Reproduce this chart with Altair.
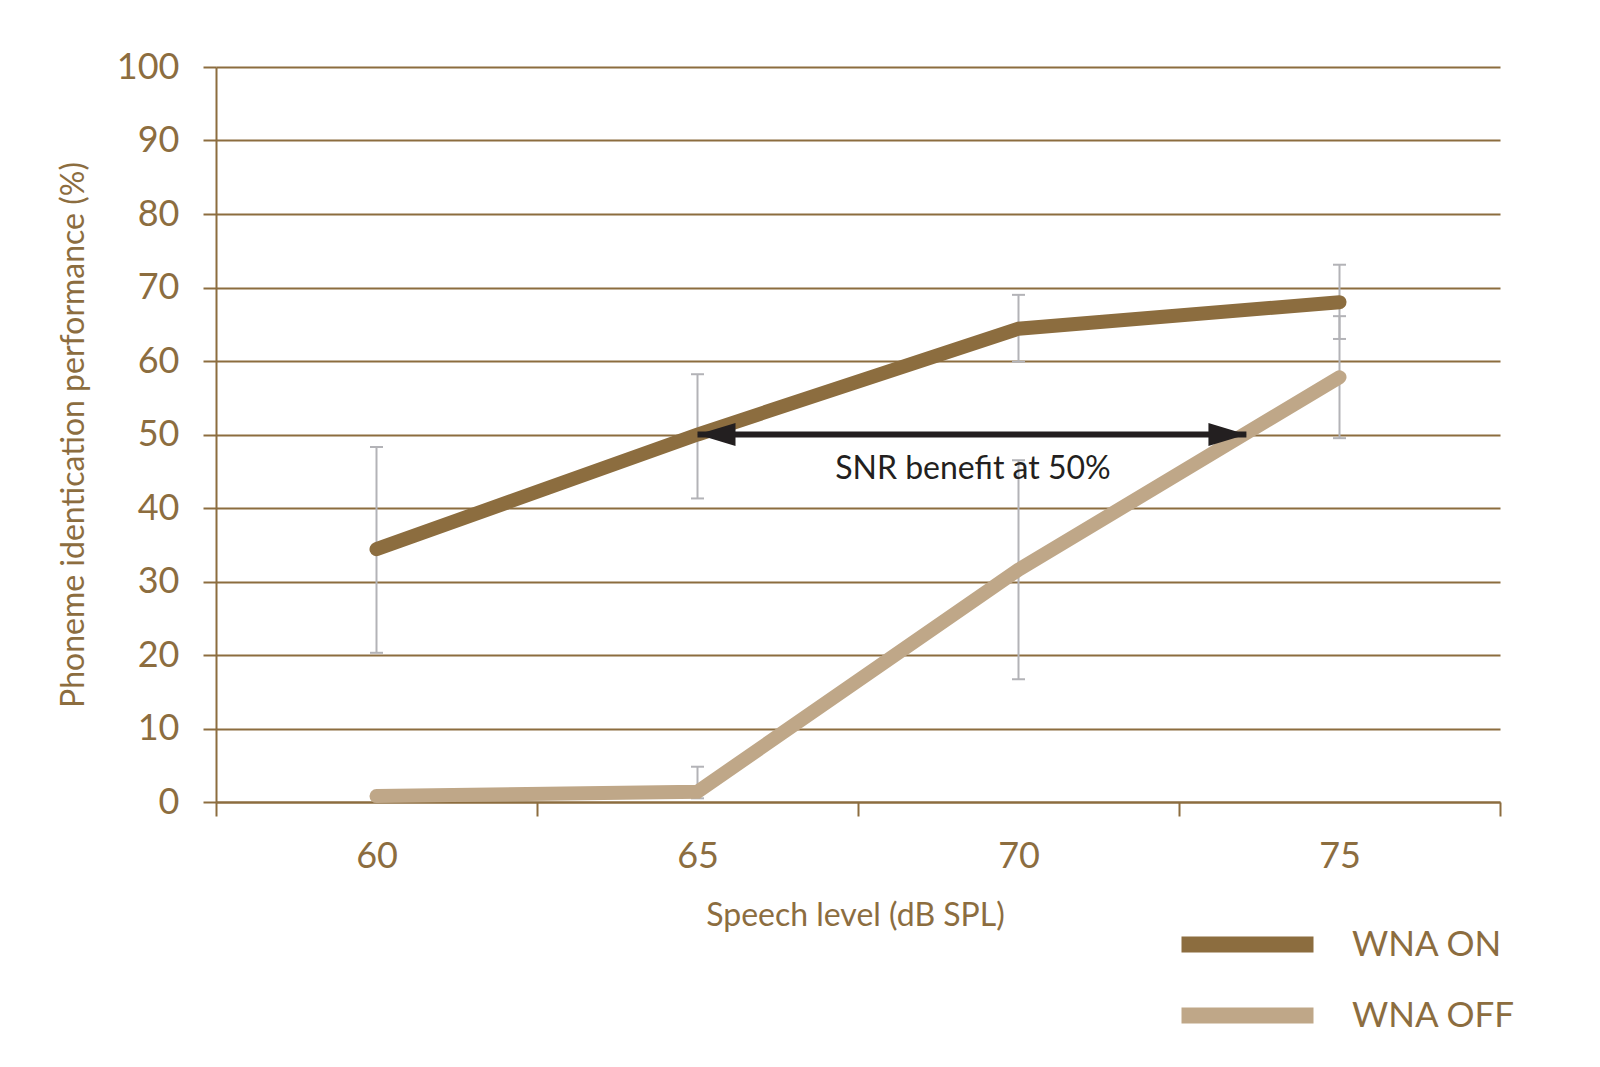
import altair as alt
import pandas as pd

# ---- data ----
levels = [60, 65, 70, 75]
series_names = ["WNA ON", "WNA OFF"]
wna_on = [34.4, 50.0, 64.4, 68.0]
wna_off = [0.8, 1.4, 31.6, 57.8]

# error bars (low, high); WNA OFF at 60 has none
on_err_low = [20.3, 41.3, 59.9, 63.0]
on_err_high = [48.3, 58.2, 69.0, 73.1]
off_err_levels = [65, 70, 75]
off_err_low = [0.5, 16.7, 49.5]
off_err_high = [4.8, 46.5, 66.1]

# annotation
arrow_start = 65.0
arrow_end = 73.55
arrow_level = 50.0
note_text = "SNR benefit at 50%"
note_x = 69.29
note_y = 44.0

x_ticks = [57.5, 60, 62.5, 65, 67.5, 70, 72.5, 75, 77.5]
y_ticks = list(range(0, 101, 10))

BROWN = "#8c6d3f"
TAN = "#bfa788"
GREY = "#b3b3b7"
DARK = "#231f20"
FONT = "Lato"

# ---- tables ----
lines_df = pd.DataFrame(
    [{"level": l, "score": v, "series": "WNA ON"} for l, v in zip(levels, wna_on)]
    + [{"level": l, "score": v, "series": "WNA OFF"} for l, v in zip(levels, wna_off)]
)
err_df = pd.DataFrame(
    [{"level": l, "low": lo, "high": hi} for l, lo, hi in zip(levels, on_err_low, on_err_high)]
    + [{"level": l, "low": lo, "high": hi} for l, lo, hi in zip(off_err_levels, off_err_low, off_err_high)]
)
caps_df = pd.DataFrame(
    [{"level": r["level"], "value": r["low"]} for _, r in err_df.iterrows()]
    + [{"level": r["level"], "value": r["high"]} for _, r in err_df.iterrows()]
)
arrow_df = pd.DataFrame([{"x1": arrow_start, "x2": arrow_end, "y": arrow_level}])
note_df = pd.DataFrame([{"x": note_x, "y": note_y, "t": note_text}])

x_scale = alt.Scale(domain=[57.5, 77.5], nice=False, zero=False)
y_scale = alt.Scale(domain=[0, 100], nice=False)

x_axis = alt.Axis(
    values=x_ticks,
    format="d",
    labelExpr="datum.value % 5 == 0 ? datum.label : ''",
    tickOpacity={"condition": {"test": "datum.value % 5 == 0", "value": 0}, "value": 1},
    grid=False,
    domainColor=BROWN, domainWidth=2,
    tickColor=BROWN, tickWidth=2, tickSize=14,
    labelFont=FONT, labelFontSize=36, labelColor=BROWN, labelPadding=23,
    labelOverlap=False,
    title="Speech level (dB SPL)",
    titleFont=FONT, titleFontSize=32, titleFontWeight="normal", titleColor=BROWN,
    titleX=639, titleY=113, titleBaseline="middle", titleAlign="center",
)
y_axis = alt.Axis(
    values=y_ticks,
    grid=True, gridColor=BROWN, gridWidth=2,
    domainColor=BROWN, domainWidth=2,
    tickColor=BROWN, tickWidth=2, tickSize=13,
    labelFont=FONT, labelFontSize=36, labelColor=BROWN, labelPadding=24,
    title="Phoneme identication performance (%)",
    titleFont=FONT, titleFontSize=32, titleFontWeight="normal", titleColor=BROWN,
    titleX=-143, titleY=367.5, titleAngle=-90, titleBaseline="middle", titleAlign="center",
)

err_rules = alt.Chart(err_df).mark_rule(color=GREY, strokeWidth=2).encode(
    x=alt.X("level:Q", scale=x_scale, axis=x_axis),
    y=alt.Y("low:Q", scale=y_scale, axis=y_axis),
    y2="high:Q",
)
err_caps = alt.Chart(caps_df).mark_point(
    shape="stroke", size=169, color=GREY, strokeWidth=2, filled=False, opacity=1
).encode(x="level:Q", y="value:Q")

lines = alt.Chart(lines_df).mark_line(strokeWidth=14, strokeCap="round", strokeJoin="miter").encode(
    x="level:Q",
    y="score:Q",
    color=alt.Color(
        "series:N",
        scale=alt.Scale(domain=series_names, range=[BROWN, TAN]),
        legend=alt.Legend(
            orient="none", legendX=1007, legendY=853, title=None, direction="vertical",
            symbolType="M-4,0L4,0", symbolSize=1089, symbolStrokeWidth=16,
            labelFont=FONT, labelFontSize=35, labelColor=BROWN, labelOffset=80,
            labelLimit=400, rowPadding=6, padding=0,
        ),
    ),
    detail="series:N",
)

arrow_line = alt.Chart(arrow_df).mark_rule(color=DARK, strokeWidth=6).encode(
    x="x1:Q", x2="x2:Q", y="y:Q"
)
head_left = alt.Chart(arrow_df).mark_point(
    shape="M0,0L2,-0.6L2,0.6Z", size=1444, filled=True, color=DARK, opacity=1, strokeWidth=0
).encode(x="x1:Q", y="y:Q")
head_right = alt.Chart(arrow_df).mark_point(
    shape="M0,0L-2,-0.6L-2,0.6Z", size=1444, filled=True, color=DARK, opacity=1, strokeWidth=0
).encode(x="x2:Q", y="y:Q")

note = alt.Chart(note_df).mark_text(
    font=FONT, fontSize=32, color=DARK, align="center", baseline="alphabetic"
).encode(x="x:Q", y="y:Q", text="t:N")

chart = alt.layer(err_rules, err_caps, lines, arrow_line, head_left, head_right, note).properties(
    width=1284, height=735,
    background="white",
    autosize=alt.AutoSizeParams(type="none"),
    padding={"left": 216, "top": 67, "right": 100, "bottom": 265},
).configure_view(stroke=None, strokeWidth=0)

chart.save("out.html", embed_options={"renderer": "svg", "actions": False})
